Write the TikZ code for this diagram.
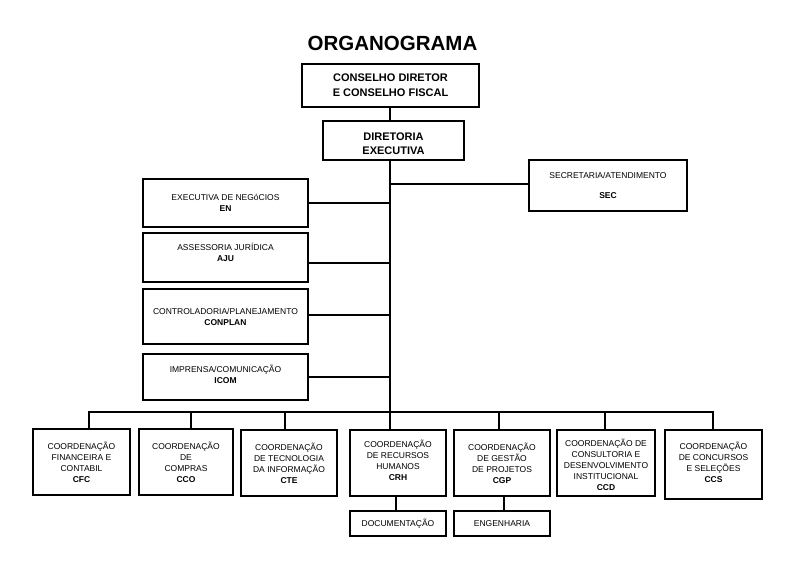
\documentclass[tikz,border=0pt]{standalone}
\usepackage{fontspec}
\setmainfont{Liberation Sans}
\begin{document}
\begin{tikzpicture}[x=1pt,y=-1pt,
  box/.style={draw=black,line width=1.8pt,rectangle,inner sep=0pt,align=center,
    font=\fontsize{8.5}{11}\selectfont},
  txt/.style={inner sep=0pt,align=center,font=\fontsize{8.5}{11}\selectfont},
  topbox/.style={box,font=\bfseries\fontsize{11}{15}\selectfont},
  link/.style={draw=black,line width=1.8pt}]
\useasboundingbox[fill=white] (0,0) rectangle (800,566);
\node[font=\bfseries\fontsize{20.5}{24}\selectfont] (title) at (392.5,43) {ORGANOGRAMA};
\node[topbox,minimum width=177pt,minimum height=43pt] (cons) at (390.5,85.5) {CONSELHO DIRETOR\\E CONSELHO FISCAL};
\node[topbox,minimum width=141pt,minimum height=39pt] (dir) at (393.5,140.5) {};
\node[txt,font=\bfseries\fontsize{11}{14}\selectfont] (dirt) at ([yshift=-3.5pt]dir.center) {DIRETORIA\\EXECUTIVA};
\coordinate (t) at (390,412);
% left staff boxes
\node[box,minimum width=165pt,minimum height=48pt] (en) at (225.5,203) {EXECUTIVA DE NEGóCIOS\\\textbf{EN}};
\node[box,minimum width=165pt,minimum height=49pt] (aju) at (225.5,257.5) {};
\node[txt] (ajut) at ([yshift=5pt]aju.center) {ASSESSORIA JURÍDICA\\\textbf{AJU}};
\node[box,minimum width=165pt,minimum height=55pt] (conplan) at (225.5,316.5) {CONTROLADORIA/PLANEJAMENTO\\\textbf{CONPLAN}};
\node[box,minimum width=165pt,minimum height=46pt] (icom) at (225.5,377) {};
\node[txt] (icomt) at ([yshift=3pt]icom.center) {IMPRENSA/COMUNICAÇÃO\\\textbf{ICOM}};
\node[box,minimum width=158pt,minimum height=51pt,font=\fontsize{8.5}{20}\selectfont] (sec) at (608,185.5) {SECRETARIA/ATENDIMENTO\\\textbf{SEC}};
% bottom coordinations
\node[box,minimum width=97pt,minimum height=66pt] (cfc) at (81.5,462) {COORDENAÇÃO\\FINANCEIRA E\\CONTABIL\\\textbf{CFC}};
\node[box,minimum width=94pt,minimum height=66pt] (cco) at (186,462) {COORDENAÇÃO\\DE\\COMPRAS\\\textbf{CCO}};
\node[box,minimum width=96pt,minimum height=66pt] (cte) at (289,463) {COORDENAÇÃO\\DE TECNOLOGIA\\DA INFORMAÇÃO\\\textbf{CTE}};
\node[box,minimum width=96pt,minimum height=66pt] (crh) at (398,463) {};
\node[txt] (crht) at ([yshift=3pt]crh.center) {COORDENAÇÃO\\DE RECURSOS\\HUMANOS\\\textbf{CRH}};
\node[box,minimum width=96pt,minimum height=66pt] (cgp) at (502,463) {COORDENAÇÃO\\DE GESTÃO\\DE PROJETOS\\\textbf{CGP}};
\node[box,minimum width=98pt,minimum height=66pt] (ccd) at (606,463) {};
\node[txt] (ccdt) at ([yshift=-1.5pt]ccd.center) {COORDENAÇÃO DE\\CONSULTORIA E\\DESENVOLVIMENTO\\INSTITUCIONAL\\\textbf{CCD}};
\node[box,minimum width=97pt,minimum height=69pt] (ccs) at (713.5,464.5) {};
\node[txt] (ccst) at ([yshift=2pt]ccs.center) {COORDENAÇÃO\\DE CONCURSOS\\E SELEÇÕES\\\textbf{CCS}};
\node[box,minimum width=96pt,minimum height=25pt] (doc) at (398,523.5) {DOCUMENTAÇÃO};
\node[box,minimum width=96pt,minimum height=25pt] (eng) at (502,523.5) {ENGENHARIA};
% connectors
\draw[link] (cons.south -| t) -- (dir.north -| t);
\draw[link] (dir.south -| t) -- (crh.north -| t);
\draw[link] ([yshift=1.5pt]sec.west) -- ([yshift=1.5pt]sec.west -| t);
\draw[link] (en.east) -- (en.east -| t);
\draw[link] ([yshift=-5.5pt]aju.east) -- ([yshift=-5.5pt]aju.east -| t);
\draw[link] ([yshift=1.5pt]conplan.east) -- ([yshift=1.5pt]conplan.east -| t);
\draw[link] (icom.east) -- (icom.east -| t);
\coordinate (bl) at (89,412);
\coordinate (br) at (713,412);
\draw[link,line cap=rect] (cfc.north -| bl) -- (bl) -- (br) -- (ccs.north -| br);
\draw[link] (cco.north -| 191,412) -- (191,412);
\draw[link] (cte.north -| 285,412) -- (285,412);
\draw[link] (cgp.north -| 499,412) -- (499,412);
\draw[link] (ccd.north -| 605,412) -- (605,412);
\draw[link] (crh.south -| 396,0) -- (doc.north -| 396,0);
\draw[link] (cgp.south -| 504,0) -- (eng.north -| 504,0);
\end{tikzpicture}
\end{document}
